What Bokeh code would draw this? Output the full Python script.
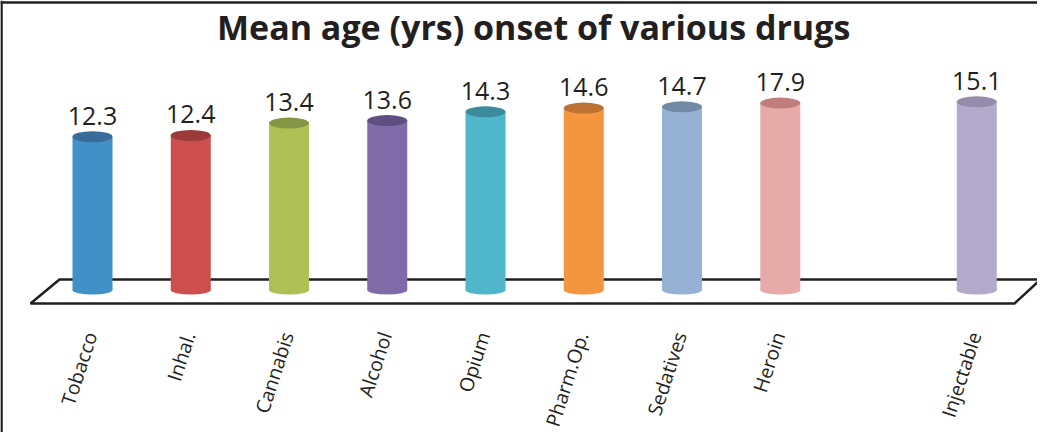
from bokeh.plotting import figure
from bokeh.models import Range1d, Span, ColumnDataSource, LabelSet
from bokeh.core.properties import value
from bokeh.embed import file_html
from bokeh.resources import INLINE

# ---------------- data ----------------
title_text = "Mean age (yrs) onset of various drugs"
# category slots as in the source sheet (one empty slot before "Injectable")
categories = ["Tobacco", "Inhal.", "Cannabis", "Alcohol", "Opium",
              "Pharm.Op.", "Sedatives", "Heroin", "", "Injectable"]
drugs = ["Tobacco", "Inhal.", "Cannabis", "Alcohol", "Opium",
         "Pharm.Op.", "Sedatives", "Heroin", "Injectable"]
# bar heights as drawn in the picture (Heroin's bar is drawn at about 15.0)
bar_ages = [12.3, 12.4, 13.4, 13.6, 14.3, 14.6, 14.7, 15.0, 15.1]
# value labels printed above the bars
label_texts = ["12.3", "12.4", "13.4", "13.6", "14.3", "14.6", "14.7", "17.9", "15.1"]

body_colors = ["#4190C8", "#CC4F4E", "#AFC156", "#806AA8", "#4FB6CB",
               "#F3963F", "#95B2D5", "#E6ABA8", "#B3A9CB"]
top_colors = ["#3A6C9A", "#9C3A39", "#869445", "#5F4E81", "#3B8B9C",
              "#BB7232", "#7189A5", "#BF7E7B", "#958BAA"]

xs = [categories.index(d) for d in drugs]

# ---------------- figure ----------------
W, H = 1037, 432
p = figure(width=W, height=H, output_backend="svg", toolbar_location=None,
           x_range=Range1d(-0.9364, 9.618), y_range=Range1d(-11.437, 23.234),
           min_border=0, outline_line_color=None)
p.axis.visible = False
p.grid.visible = False
p.background_fill_color = "white"
p.border_fill_color = "white"

# chart border (left and top visible)
p.add_layout(Span(location=-0.926, dimension="height", line_color="#231F20", line_width=2.5))
p.add_layout(Span(location=23.07, dimension="width", line_color="#231F20", line_width=2.5))

# 3D floor
n = len(categories)
floor_x = [-0.631, -0.336, n - 0.351, n - 0.616]
floor_y = [-1.083, 0.843, 0.843, -1.083]
p.patch(floor_x, floor_y, fill_color="white", line_color="#231F20", line_width=2.5)

src = ColumnDataSource(dict(x=xs, top=bar_ages, label=label_texts, drug=drugs,
                            body=body_colors, cap=top_colors,
                            zero=[0] * len(xs)))

bw = 40 / 98.25
# bottom ellipse (lower rim of cylinder)
p.ellipse(x="x", y="zero", width=40, height=9, width_units="screen", height_units="screen",
          fill_color="body", line_color=None, source=src)
# body
p.vbar(x="x", bottom="zero", top="top", width=bw, fill_color="body", line_color=None, source=src)
# top cap
p.ellipse(x="x", y="top", width=40, height=11, width_units="screen", height_units="screen",
          fill_color="cap", line_color=None, source=src)

# value labels
p.add_layout(LabelSet(x="x", y="top", text="label", source=src, y_offset=12,
                      text_align="center", text_baseline="bottom",
                      text_font=value("Open Sans"), text_font_size="25px",
                      text_color="#231F20"))

# category labels (rotated)
p.text(x="x", y=-3.41, text="drug", source=src, angle=72, angle_units="deg",
       text_align="right", text_baseline="middle", x_offset=-2,
       text_font=value("Open Sans"), text_font_size="19.5px", text_color="#231F20")

# title
p.text(x=[4.49], y=[21.09], text=[title_text], text_align="center", text_baseline="middle",
       text_font=value("Open Sans"), text_font_style="bold", text_font_size="34px",
       text_color="#231F20")

open("out.html", "w").write(file_html(p, INLINE))
